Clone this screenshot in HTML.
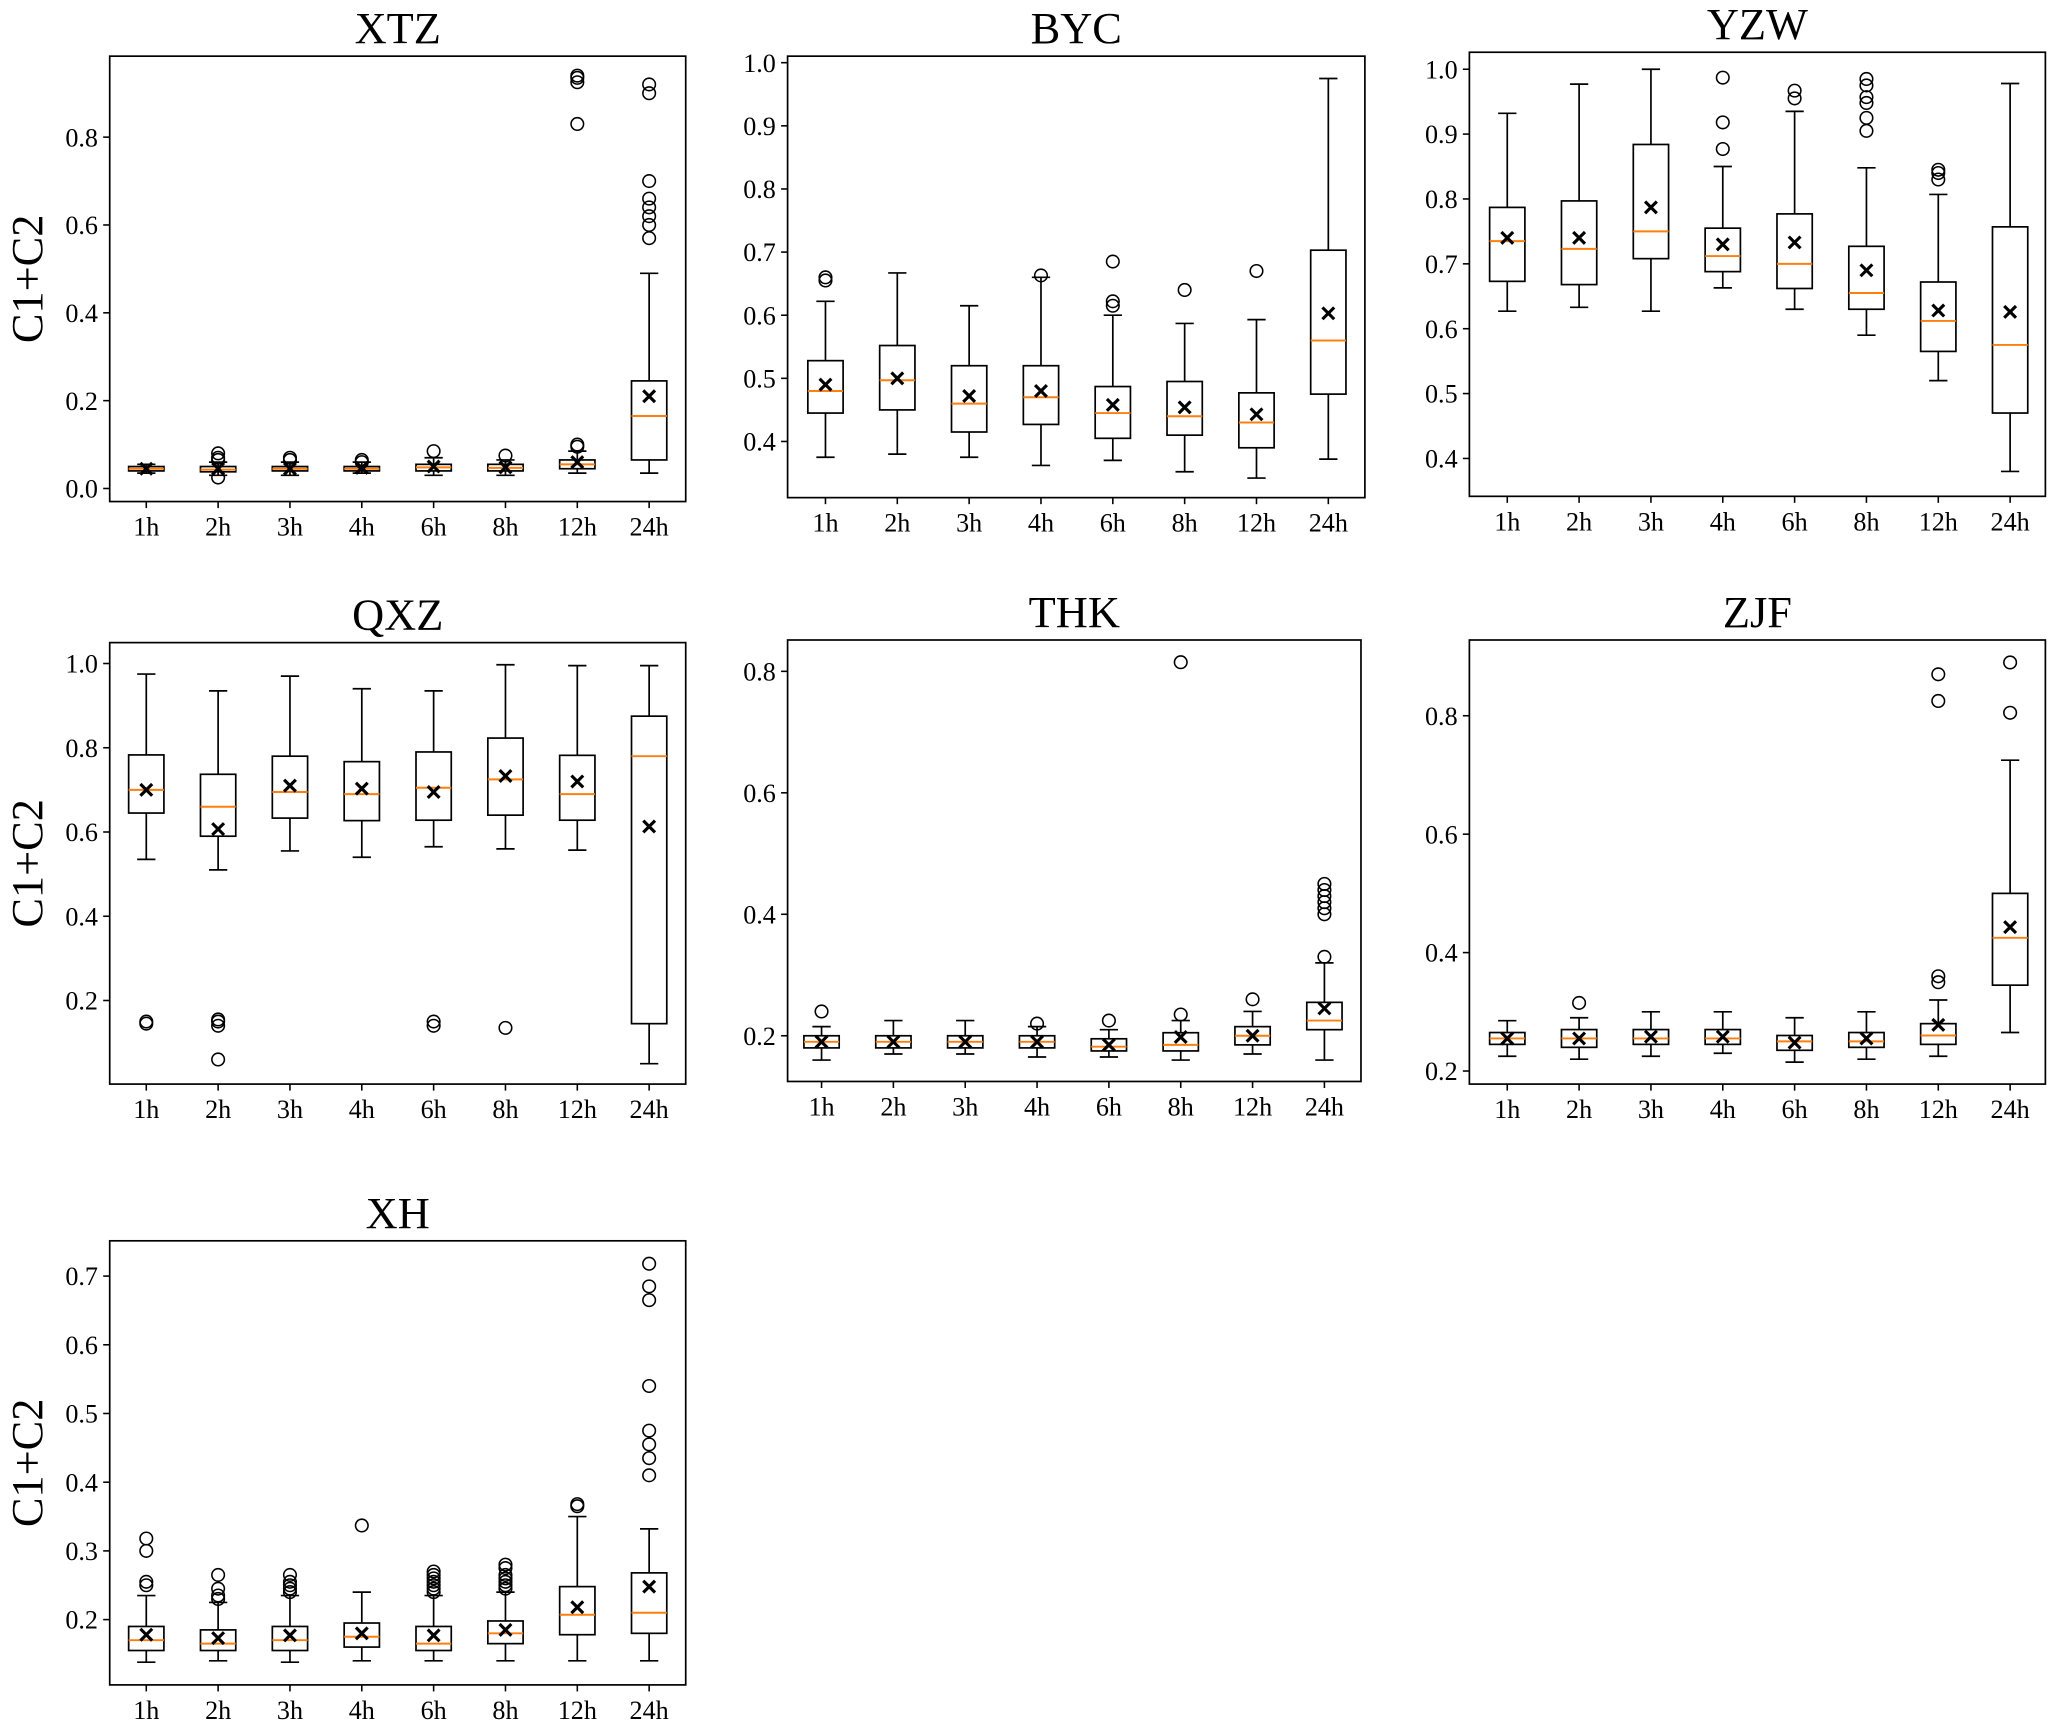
<!DOCTYPE html>
<html><head><meta charset="utf-8"><style>
html,body{margin:0;padding:0;background:#fff;}
svg{display:block;}
text{font-family:"Liberation Serif","DejaVu Serif",serif;fill:#000;}
</style></head><body>
<svg id="s" width="2048" height="1728" viewBox="0 0 1568 1323" preserveAspectRatio="none" xmlns="http://www.w3.org/2000/svg"></svg>
<script>
const P=[
{t:"XTZ",x0:84,x1:525,y0:43,y1:384,v0:0,p0:374,v1:0.8,p1:105,ticks:[0,.2,.4,.6,.8],dec:1,yl:true,c0:112,
d:[[.035,.04,.045,.05,.055,.045,[]],[.03,.038,.043,.05,.06,.045,[.08,.07,.065,.025]],[.03,.04,.045,.05,.06,.045,[.07,.065]],[.035,.04,.045,.05,.06,.047,[.065,.06]],[.03,.04,.048,.055,.07,.05,[.085]],[.03,.04,.047,.055,.065,.048,[.075]],[.035,.045,.055,.065,.085,.06,[.1,.095,.83,.925,.935,.94]],[.035,.065,.165,.245,.49,.21,[.57,.6,.62,.64,.66,.7,.9,.92]]]},
{t:"BYC",x0:603,x1:1045,y0:43,y1:381,v0:.4,p0:338,v1:1.0,p1:48,ticks:[.4,.5,.6,.7,.8,.9,1.0],dec:1,c0:632,
d:[[.375,.445,.48,.528,.622,.49,[.655,.66]],[.38,.45,.497,.552,.667,.5,[]],[.375,.415,.46,.52,.615,.472,[]],[.362,.427,.47,.52,.66,.48,[.663]],[.37,.405,.445,.487,.6,.458,[.615,.622,.685]],[.352,.41,.44,.495,.587,.454,[.64]],[.342,.39,.43,.477,.593,.443,[.67]],[.372,.475,.56,.703,.975,.603,[]]]},
{t:"YZW",x0:1125,x1:1566,y0:40,y1:380,v0:.4,p0:351,v1:1.0,p1:53,ticks:[.4,.5,.6,.7,.8,.9,1.0],dec:1,c0:1154,
d:[[.627,.673,.735,.787,.932,.74,[]],[.633,.668,.723,.797,.977,.74,[]],[.627,.708,.75,.884,1.0,.787,[]],[.663,.688,.712,.755,.85,.73,[.877,.918,.987]],[.63,.662,.7,.777,.935,.733,[.955,.967]],[.59,.63,.655,.727,.848,.69,[.905,.925,.948,.957,.975,.985]],[.52,.565,.612,.672,.807,.628,[.83,.84,.845]],[.38,.47,.575,.757,.978,.626,[]]]},
{t:"QXZ",x0:84,x1:525,y0:492,y1:830,v0:.2,p0:766,v1:1.0,p1:508,ticks:[.2,.4,.6,.8,1.0],dec:1,yl:true,c0:112,
d:[[.535,.645,.7,.783,.975,.7,[.15,.145]],[.51,.59,.66,.737,.935,.607,[.06,.14,.15,.155]],[.555,.633,.695,.78,.97,.71,[]],[.54,.627,.69,.767,.94,.703,[]],[.565,.628,.705,.79,.935,.695,[.14,.15]],[.56,.64,.725,.823,.997,.733,[.135]],[.557,.628,.69,.782,.995,.72,[]],[.05,.145,.78,.875,.995,.613,[]]]},
{t:"THK",x0:603,x1:1042,y0:490,y1:828,v0:.2,p0:793,v1:.8,p1:514,ticks:[.2,.4,.6,.8],dec:1,c0:629,
d:[[.16,.18,.19,.2,.215,.19,[.24]],[.17,.18,.19,.2,.225,.19,[]],[.17,.18,.19,.2,.225,.19,[]],[.165,.18,.19,.2,.215,.19,[.22]],[.165,.175,.182,.195,.21,.185,[.225]],[.16,.175,.185,.205,.225,.198,[.235,.815]],[.17,.185,.2,.215,.24,.2,[.26]],[.16,.21,.225,.255,.32,.245,[.33,.4,.41,.42,.43,.44,.45]]]},
{t:"ZJF",x0:1125,x1:1566,y0:490,y1:830,v0:.2,p0:820,v1:.8,p1:548,ticks:[.2,.4,.6,.8],dec:1,c0:1154,
d:[[.225,.245,.255,.265,.285,.255,[]],[.22,.24,.255,.27,.29,.255,[.315]],[.225,.245,.255,.27,.3,.258,[]],[.23,.245,.255,.27,.3,.258,[]],[.215,.235,.25,.26,.29,.248,[]],[.22,.24,.25,.265,.3,.255,[]],[.225,.245,.26,.28,.32,.278,[.35,.36,.825,.87]],[.265,.345,.425,.5,.725,.443,[.805,.89]]]},
{t:"XH",x0:84,x1:525,y0:950,y1:1290,v0:.2,p0:1240,v1:.7,p1:977,ticks:[.2,.3,.4,.5,.6,.7],dec:1,yl:true,c0:112,
d:[[.138,.155,.17,.19,.235,.178,[.25,.255,.3,.318]],[.14,.155,.165,.185,.225,.173,[.23,.235,.245,.265]],[.138,.155,.17,.19,.235,.177,[.24,.245,.25,.255,.265]],[.14,.16,.175,.195,.24,.18,[.337]],[.14,.155,.165,.19,.235,.177,[.24,.245,.25,.255,.26,.265,.27]],[.14,.165,.18,.198,.24,.185,[.245,.25,.255,.26,.265,.275,.28]],[.14,.178,.207,.248,.35,.218,[.365,.368]],[.14,.18,.21,.268,.332,.248,[.41,.435,.455,.475,.54,.665,.685,.718]]]}
];
const L=["1h","2h","3h","4h","6h","8h","12h","24h"];
let h="";
for(const p of P){
 const Y=v=>p.p0+(v-p.v0)*(p.p1-p.p0)/(p.v1-p.v0);
 h+=`<rect x="${p.x0}" y="${p.y0}" width="${p.x1-p.x0}" height="${p.y1-p.y0}" fill="none" stroke="#000" stroke-width="1.3"/>`;
 h+=`<text x="${(p.x0+p.x1)/2}" y="${p.y0-10}" font-size="34" text-anchor="middle">${p.t}</text>`;
 if(p.yl){const cy=(p.y0+p.y1)/2;h+=`<text x="0" y="0" font-size="34" text-anchor="middle" transform="translate(32,${cy}) rotate(-90)">C1+C2</text>`;}
 for(const t of p.ticks){const y=Y(t);h+=`<line x1="${p.x0-5}" x2="${p.x0}" y1="${y}" y2="${y}" stroke="#000" stroke-width="1.2"/><text x="${p.x0-9}" y="${y+7}" font-size="20" text-anchor="end">${t.toFixed(1)}</text>`;}
 p.d.forEach((b,i)=>{
  const cx=p.c0+i*55,w=13.5,cw=7;
  h+=`<line x1="${cx}" x2="${cx}" y1="${Y(b[0])}" y2="${Y(b[1])}" stroke="#000" stroke-width="1.3"/>`;
  h+=`<line x1="${cx}" x2="${cx}" y1="${Y(b[3])}" y2="${Y(b[4])}" stroke="#000" stroke-width="1.3"/>`;
  h+=`<line x1="${cx-cw}" x2="${cx+cw}" y1="${Y(b[0])}" y2="${Y(b[0])}" stroke="#000" stroke-width="1.3"/>`;
  h+=`<line x1="${cx-cw}" x2="${cx+cw}" y1="${Y(b[4])}" y2="${Y(b[4])}" stroke="#000" stroke-width="1.3"/>`;
  h+=`<rect x="${cx-w}" y="${Y(b[3])}" width="${2*w}" height="${Y(b[1])-Y(b[3])}" fill="none" stroke="#000" stroke-width="1.3"/>`;
  h+=`<line x1="${cx-w}" x2="${cx+w}" y1="${Y(b[2])}" y2="${Y(b[2])}" stroke="#ff7f0e" stroke-width="1.5"/>`;
  for(const o of b[6])h+=`<circle cx="${cx}" cy="${Y(o)}" r="4.8" fill="none" stroke="#000" stroke-width="1.2"/>`;
  const my=Y(b[5]);
  h+=`<path d="M${cx-4.5} ${my-4.5}L${cx+4.5} ${my+4.5}M${cx-4.5} ${my+4.5}L${cx+4.5} ${my-4.5}" stroke="#000" stroke-width="2.4"/>`;
  h+=`<line x1="${cx}" x2="${cx}" y1="${p.y1}" y2="${p.y1+5}" stroke="#000" stroke-width="1.2"/>`;
  h+=`<text x="${cx}" y="${p.y1+26}" font-size="20" text-anchor="middle">${L[i]}</text>`;
 });
}
document.getElementById("s").innerHTML=h;
</script>
</body></html>
